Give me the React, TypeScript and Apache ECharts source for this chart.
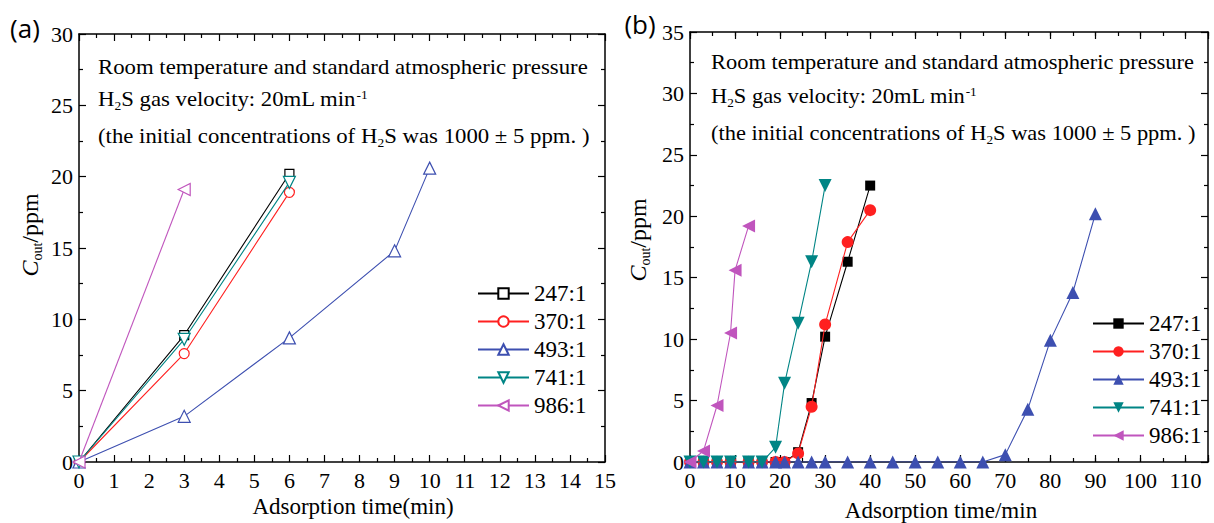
import React, { useEffect, useRef } from "react";
import * as echarts from "echarts";

const SERIF = "Liberation Serif";
const SANS = "Open Sans";

const SERIES_NAMES = ["247:1", "370:1", "493:1", "741:1", "986:1"];
const COLORS = ["#000000", "#ff2020", "#3d4fb0", "#008585", "#c055bd"];
const SYMBOLS = ["rect", "circle", "triangle", "triangle", "triangle"];
const ROTATES = [0, 0, 0, 180, 90];

// (a) values
const A_247_X = [0, 3, 6];
const A_247_Y = [0, 8.9, 20.2];
const A_370_X = [0, 3, 6];
const A_370_Y = [0, 7.6, 18.9];
const A_493_X = [0, 3, 6, 9, 10];
const A_493_Y = [0, 3.2, 8.7, 14.8, 20.6];
const A_741_X = [0, 3, 6];
const A_741_Y = [0, 8.6, 19.6];
const A_986_X = [0, 3];
const A_986_Y = [0, 19.1];

// (b) values
const B_247_X = [0, 3, 6, 9, 13, 16, 19, 21, 24, 27, 30, 35, 40];
const B_247_Y = [0, 0, 0, 0, 0, 0, 0, 0, 0.8, 4.8, 10.2, 16.3, 22.5];
const B_370_X = [0, 3, 6, 9, 13, 16, 19, 21, 24, 27, 30, 35, 40];
const B_370_Y = [0, 0, 0, 0, 0, 0, 0, 0, 0.7, 4.5, 11.2, 17.9, 20.5];
const B_493_X = [0, 3, 6, 9, 13, 16, 19, 21, 24, 27, 30, 35, 40, 45, 50, 55, 60, 65, 70, 75, 80, 85, 90];
const B_493_Y = [0, 0, 0, 0, 0, 0, 0, 0, 0, 0, 0, 0, 0, 0, 0, 0, 0, 0, 0.6, 4.3, 9.9, 13.8, 20.2];
const B_741_X = [0, 3, 6, 9, 13, 16, 19, 21, 24, 27, 30];
const B_741_Y = [0, 0, 0, 0, 0, 0, 1.2, 6.4, 11.3, 16.3, 22.5];
const B_986_X = [0, 3, 6, 9, 10, 13];
const B_986_Y = [0, 0.9, 4.6, 10.5, 15.6, 19.2];

const A_DATA = [
  [A_247_X, A_247_Y],
  [A_370_X, A_370_Y],
  [A_493_X, A_493_Y],
  [A_741_X, A_741_Y],
  [A_986_X, A_986_Y],
];
const B_DATA = [
  [B_247_X, B_247_Y],
  [B_370_X, B_370_Y],
  [B_493_X, B_493_Y],
  [B_741_X, B_741_Y],
  [B_986_X, B_986_Y],
];

const A_SIZES = [9, 10, 12, 12, 12];
const B_SIZES = [10, 12, 13, 13, 13];

function pairs(xs: number[], ys: number[]) {
  return xs.map((x, i) => [x, ys[i]]);
}

function axis(
  gridIndex: number,
  position: string,
  min: number,
  max: number,
  interval: number,
  opts: { label?: boolean; tick?: number; minor?: boolean; line?: boolean; fmt?: any }
) {
  return {
    type: "value",
    gridIndex,
    position,
    min,
    max,
    interval,
    axisLine: { show: opts.line !== false, onZero: false, lineStyle: { color: "#000", width: 1.5 } },
    axisTick: { show: true, inside: true, length: opts.tick ?? 7, lineStyle: { color: "#000", width: 1.2 } },
    minorTick: { show: !!opts.minor, splitNumber: 2, length: 4, lineStyle: { color: "#000", width: 1.2 } },
    axisLabel: {
      show: !!opts.label,
      color: "#000",
      fontFamily: SERIF,
      fontSize: 22,
      margin: position === "left" ? 6 : 7,
      formatter: opts.fmt,
    },
    splitLine: { show: false },
    minorSplitLine: { show: false },
  };
}

const MAIN = { fontFamily: SERIF, fontSize: 22, lineHeight: 24, verticalAlign: "top", fill: "#000" };
const SUB = { fontFamily: SERIF, fontSize: 13, lineHeight: 13, verticalAlign: "bottom", padding: [13, 0, 0, 0], fill: "#000" };
const SUP = { fontFamily: SERIF, fontSize: 13, lineHeight: 13, verticalAlign: "top", fill: "#000" };
const RICH = { n: MAIN, s: SUB, p: SUP };

const NOTE_1 = "{n|Room temperature and standard atmospheric pressure}";
const NOTE_2 = "{n|H}{s|2}{n|S gas velocity: 20mL min}{p|-1}";
const NOTE_3 = "{n|(the initial concentrations of H}{s|2}{n|S was 1000 ± 5 ppm. )}";

function noteTexts(x: number, tops: number[], sx: number) {
  return [NOTE_1, NOTE_2, NOTE_3].map((t, i) => ({
    type: "text",
    x,
    y: tops[i],
    scaleX: sx,
    silent: true,
    style: { text: t, rich: RICH, align: "left", verticalAlign: "top" },
  }));
}

const YNAME_RICH = {
  i: { fontFamily: SERIF, fontSize: 24, fontStyle: "italic", lineHeight: 26, verticalAlign: "top", fill: "#000" },
  n: { fontFamily: SERIF, fontSize: 24, lineHeight: 26, verticalAlign: "top", fill: "#000" },
  s: { fontFamily: SERIF, fontSize: 14, lineHeight: 14, verticalAlign: "bottom", padding: [15, 0, 0, 0], fill: "#000" },
};

function yName(x: number, y: number) {
  return {
    type: "text",
    x,
    y,
    rotation: Math.PI / 2,
    silent: true,
    style: { text: "{i|C}{s|out}{n|/ppm}", rich: YNAME_RICH, align: "center", verticalAlign: "middle" },
  };
}

export default function App() {
  const ref = useRef<HTMLDivElement>(null);
  useEffect(() => {
    if (!ref.current) return;
    const chart = echarts.init(ref.current, undefined, { renderer: "svg" });

    const series: any[] = [];
    SERIES_NAMES.forEach((name, i) => {
      series.push({
        type: "line",
        name,
        xAxisIndex: 0,
        yAxisIndex: 0,
        data: pairs(A_DATA[i][0], A_DATA[i][1]),
        symbol: SYMBOLS[i],
        symbolSize: A_SIZES[i],
        symbolRotate: ROTATES[i],
        lineStyle: { color: COLORS[i], width: 1.1 },
        itemStyle: { color: "#ffffff", borderColor: COLORS[i], borderWidth: 1.2 },
        z: 2 + i,
      });
    });
    SERIES_NAMES.forEach((name, i) => {
      series.push({
        type: "line",
        name: "b" + name,
        xAxisIndex: 2,
        yAxisIndex: 2,
        data: pairs(B_DATA[i][0], B_DATA[i][1]),
        symbol: SYMBOLS[i],
        symbolSize: B_SIZES[i],
        symbolRotate: ROTATES[i],
        lineStyle: { color: COLORS[i], width: 1.1 },
        itemStyle: { color: COLORS[i], borderWidth: 0 },
        z: 2 + i,
      });
    });

    const legendCommon = {
      orient: "vertical",
      itemWidth: 51,
      itemHeight: 13,
      itemGap: 5,
      selectedMode: false,
      textStyle: { color: "#000", fontFamily: SERIF, fontSize: 23 },
    };

    chart.setOption({
      animation: false,
      backgroundColor: "#fff",
      textStyle: { fontFamily: SERIF, color: "#000" },
      grid: [
        { left: 79, top: 34, width: 526, height: 428 },
        { left: 690, top: 32, width: 518, height: 430 },
      ],
      xAxis: [
        axis(0, "bottom", 0, 15, 1, { label: true, tick: 7, minor: true }),
        axis(0, "top", 0, 15, 1, { tick: 7, minor: true }),
        axis(1, "bottom", 0, 115, 10, { label: true, tick: 7, fmt: (v: number) => (v > 110 ? "" : String(v)) }),
        axis(1, "bottom", 0, 115, 5, { tick: 4, line: false }),
        axis(1, "top", 0, 115, 10, { tick: 7 }),
        axis(1, "top", 0, 115, 5, { tick: 4, line: false }),
      ],
      yAxis: [
        axis(0, "left", 0, 30, 5, { label: true, tick: 7, minor: true }),
        axis(0, "right", 0, 30, 5, { tick: 7, minor: true }),
        axis(1, "left", 0, 35, 5, { label: true, tick: 7, minor: true }),
        axis(1, "right", 0, 35, 5, { tick: 7, minor: true }),
      ],
      legend: [
        { ...legendCommon, left: 472, top: 277, data: SERIES_NAMES },
        {
          ...legendCommon,
          left: 1087,
          top: 307,
          data: SERIES_NAMES.map((n) => "b" + n),
          formatter: (name: string) => name.slice(1),
        },
      ],
      series,
      graphic: [
        {
          type: "text",
          x: 25,
          y: 28,
          silent: true,
          style: { text: "(a)", fontFamily: SANS, fontSize: 26, fill: "#000", align: "center", verticalAlign: "middle" },
        },
        {
          type: "text",
          x: 640,
          y: 24,
          silent: true,
          style: { text: "(b)", fontFamily: SANS, fontSize: 26, fill: "#000", align: "center", verticalAlign: "middle" },
        },
        ...noteTexts(98, [55.6, 87.6, 124.6], 1.035),
        ...noteTexts(711, [50.6, 84.6, 122], 1.02),
        {
          type: "text",
          x: 353,
          y: 506,
          silent: true,
          style: { text: "Adsorption time(min)", fontFamily: SERIF, fontSize: 23, fill: "#000", align: "center", verticalAlign: "middle" },
        },
        {
          type: "text",
          x: 941,
          y: 510,
          silent: true,
          style: { text: "Adsorption time/min", fontFamily: SERIF, fontSize: 23, fill: "#000", align: "center", verticalAlign: "middle" },
        },
        yName(31, 235),
        yName(639, 240),
      ],
    });
    return () => chart.dispose();
  }, []);
  return (
    <div
      ref={ref}
      style={{ position: "fixed", left: 0, top: 0, width: 1214, height: 523, background: "#fff" }}
    />
  );
}
